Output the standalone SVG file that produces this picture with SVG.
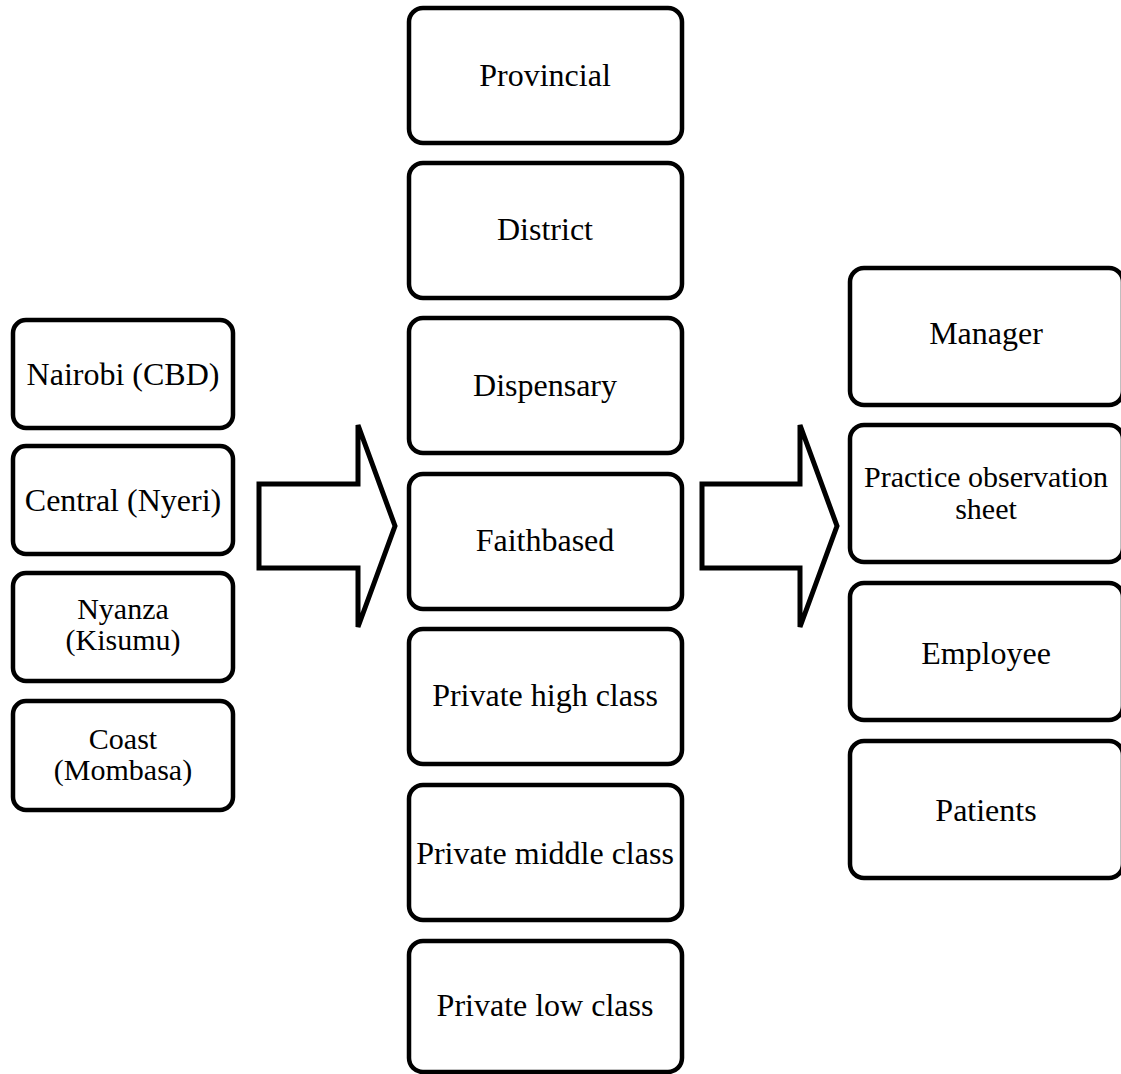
<svg xmlns="http://www.w3.org/2000/svg" width="1121" height="1074" viewBox="0 0 1121 1074">
<style>
.box{fill:#fff;stroke:#000;stroke-width:4.5}
.arr{fill:#fff;stroke:#000;stroke-width:5;stroke-linejoin:miter}
text{font-family:"Liberation Serif","Times New Roman",serif;font-size:32px;fill:#000;text-anchor:middle}
text.two{font-size:30px}
</style>
<rect width="1121" height="1074" fill="#fff"/>
<g id="connectors">
<path class="arr" d="M259,484 H358 V425 L395,526 L358,627 V568 H259 Z"/>
<path class="arr" d="M702,484 H800 V425 L837,526 L800,627 V568 H702 Z"/>
</g>
<g id="n-nairobi"><rect class="box" x="13" y="320" width="220" height="108" rx="13"/><text x="123" y="385">Nairobi (CBD)</text></g>
<g id="n-central"><rect class="box" x="13" y="446" width="220" height="108" rx="13"/><text x="123" y="511">Central (Nyeri)</text></g>
<g id="n-nyanza"><rect class="box" x="13" y="573" width="220" height="108" rx="13"/><text class="two" x="123" y="619">Nyanza</text><text class="two" x="123" y="650">(Kisumu)</text></g>
<g id="n-coast"><rect class="box" x="13" y="701" width="220" height="109" rx="13"/><text class="two" x="123" y="749">Coast</text><text class="two" x="123" y="780">(Mombasa)</text></g>
<g id="n-provincial"><rect class="box" x="409" y="8" width="273" height="135" rx="14"/><text x="545" y="86">Provincial</text></g>
<g id="n-district"><rect class="box" x="409" y="163" width="273" height="135" rx="14"/><text x="545" y="240">District</text></g>
<g id="n-dispensary"><rect class="box" x="409" y="318" width="273" height="135" rx="14"/><text x="545" y="396">Dispensary</text></g>
<g id="n-faithbased"><rect class="box" x="409" y="474" width="273" height="135" rx="14"/><text x="545" y="551">Faithbased</text></g>
<g id="n-privhigh"><rect class="box" x="409" y="629" width="273" height="135" rx="14"/><text x="545" y="706">Private high class</text></g>
<g id="n-privmid"><rect class="box" x="409" y="785" width="273" height="135" rx="14"/><text x="545" y="864">Private middle class</text></g>
<g id="n-privlow"><rect class="box" x="409" y="941" width="273" height="131" rx="14"/><text x="545" y="1016">Private low class</text></g>
<g id="n-manager"><rect class="box" x="850" y="268" width="273" height="137" rx="14"/><text x="986" y="344">Manager</text></g>
<g id="n-practice"><rect class="box" x="850" y="425" width="273" height="137" rx="14"/><text class="two" x="986" y="487">Practice observation</text><text class="two" x="986" y="519">sheet</text></g>
<g id="n-employee"><rect class="box" x="850" y="583" width="273" height="137" rx="14"/><text x="986" y="664">Employee</text></g>
<g id="n-patients"><rect class="box" x="850" y="741" width="273" height="137" rx="14"/><text x="986" y="821">Patients</text></g>
</svg>
